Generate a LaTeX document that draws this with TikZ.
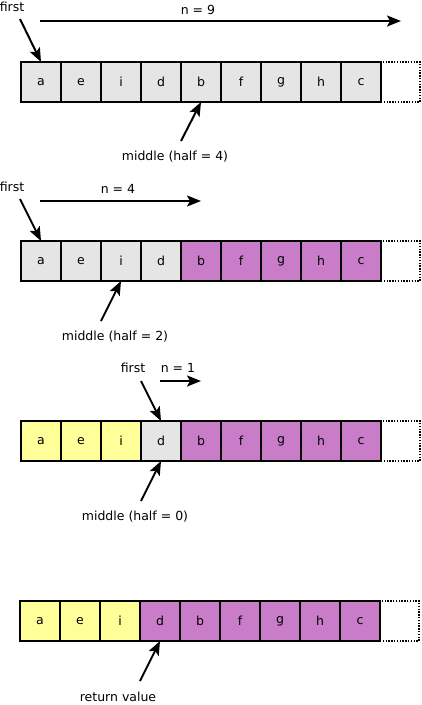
\documentclass[tikz,border=0pt]{standalone}
\usepackage{fontspec}
\setmainfont{DejaVu Sans}
\usetikzlibrary{arrows.meta}
\definecolor{cgrey}{HTML}{E5E5E5}
\definecolor{cpurple}{HTML}{C97DC9}
\definecolor{cyellow}{HTML}{FFFF99}
\begin{document}
\begin{tikzpicture}[x=1pt,y=-1pt,
  cell/.style={draw=black, line width=1.9pt, minimum width=40pt, minimum height=40pt, inner sep=0pt, outer sep=0pt, anchor=north west, font=\fontsize{12.5}{14}\selectfont},
  gcell/.style={cell, fill=cgrey},
  pcell/.style={cell, fill=cpurple},
  ycell/.style={cell, fill=cyellow},
  dcell/.style={draw=black, line width=1.5pt, dash pattern=on 1.4pt off 1.4pt, minimum width=39pt, minimum height=40pt, inner sep=0pt, outer sep=0pt, anchor=north west},
  lbl/.style={font=\fontsize{12.5}{14}\selectfont, inner sep=0pt},
  arr/.style={line width=2pt, -{Stealth[length=14pt,width=11pt,inset=3pt]}},
]
\path[use as bounding box] (0,0) rectangle (421,705);
\def\letters{a,e,i,d,b,f,g,h,c}
% Row 1
\foreach \l [count=\k] in \letters {
  \node[gcell] (r1c\k) at ({21+(\k-1)*40},62) {\l};
}
\node[dcell] (r1d) at (381,62) {};
% Row 2
\foreach \l [count=\k] in \letters {
  \ifnum\k<5 \node[gcell] (r2c\k) at ({21+(\k-1)*40},241) {\l};
  \else \node[pcell] (r2c\k) at ({21+(\k-1)*40},241) {\l}; \fi
}
\node[dcell] (r2d) at (381,241) {};
% Row 3
\foreach \l [count=\k] in \letters {
  \ifnum\k<4 \node[ycell] (r3c\k) at ({21+(\k-1)*40},421) {\l};
  \else\ifnum\k=4 \node[gcell] (r3c\k) at ({21+(\k-1)*40},421) {\l};
  \else \node[pcell] (r3c\k) at ({21+(\k-1)*40},421) {\l}; \fi\fi
}
\node[dcell] (r3d) at (381,421) {};
% Row 4
\foreach \l [count=\k] in \letters {
  \ifnum\k<4 \node[ycell] (r4c\k) at ({20+(\k-1)*40},601) {\l};
  \else \node[pcell] (r4c\k) at ({20+(\k-1)*40},601) {\l}; \fi
}
\node[dcell] (r4d) at (380,601) {};

% Row 1 annotations
\node[lbl] (first1) at (12,7) {first};
\coordinate (f1s) at (20,19);
\draw[arr] (f1s) -- (r1c1.north);
\node[lbl] (n9) at (198,10) {n = 9};
\coordinate (n9a) at (40,21);
\coordinate (n9b) at (401,21);
\draw[arr] (n9a) -- (n9b);
\node[lbl] (mid1) at (175,157) {middle (half = 4)};
\coordinate (m1s) at (181,141);
\draw[arr] (m1s) -- (r1c5.south);

% Row 2 annotations
\node[lbl] (first2) at (12,187) {first};
\coordinate (f2s) at (20,199);
\draw[arr] (f2s) -- (r2c1.north);
\node[lbl] (n4) at (118,189) {n = 4};
\coordinate (n4a) at (40,201);
\coordinate (n4b) at (201,201);
\draw[arr] (n4a) -- (n4b);
\node[lbl] (mid2) at (115,337) {middle (half = 2)};
\coordinate (m2s) at (101,321);
\draw[arr] (m2s) -- (r2c3.south);

% Row 3 annotations
\node[lbl] (first3) at (133,368) {first};
\coordinate (f3s) at (141,381);
\draw[arr] (f3s) -- (r3c4.north);
\node[lbl] (n1) at (178,368) {n = 1};
\coordinate (n1a) at (160,381);
\coordinate (n1b) at (201,381);
\draw[arr] (n1a) -- (n1b);
\node[lbl] (mid3) at (135,517) {middle (half = 0)};
\coordinate (m3s) at (141,501);
\draw[arr] (m3s) -- (r3c4.south);

% Row 4 annotations
\node[lbl] (ret) at (118,697) {return value};
\coordinate (rs) at (140,681);
\draw[arr] (rs) -- (r4c4.south);
\end{tikzpicture}
\end{document}
